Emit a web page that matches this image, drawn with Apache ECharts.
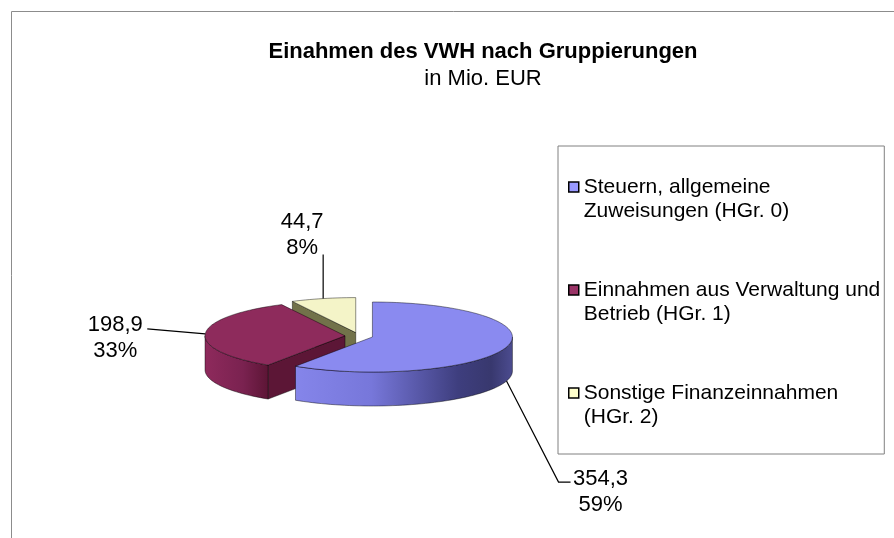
<!DOCTYPE html>
<html>
<head>
<meta charset="utf-8">
<title>Einahmen des VWH nach Gruppierungen</title>
<script src="https://cdn.jsdelivr.net/npm/echarts@6/dist/echarts.min.js"></script>
<style>
    html, body { margin: 0; padding: 0; background: #fff; }
    #chart { width: 894px; height: 538px; }
</style>
</head>
<body>
<div id="chart"></div>
<script>
// Daten
const categories = [
    'Steuern, allgemeine\nZuweisungen (HGr. 0)',
    'Einnahmen aus Verwaltung und\nBetrieb (HGr. 1)',
    'Sonstige Finanzeinnahmen\n(HGr. 2)'
]
const values = [354.3, 198.9, 44.7]
const percentLabels = ['59%', '33%', '8%']

// Farben
const legendColors = ['#9999ff', '#993366', '#ffffcc']
const topColors = ['#8a8af0', '#8e2b5c', '#f4f4c8']
const faceColors = ['#4a4a90', '#5c1636', '#72724a']
const wallStops = [
    [['0', '#8585ea'], ['0.35', '#7777da'], ['0.75', '#3e3e7e'], ['0.9', '#38386e'], ['1', '#4c4c90']],
    [['0', '#8e2a5c'], ['0.6', '#7a2250'], ['1', '#5c1535']],
    [['0', '#e8e8b8'], ['1', '#b8b888']]
]

const fontFamily = '"Liberation Sans", Arial, sans-serif'

// 3D-Torte: Lage und Form
const pie = { cx: 359, cy: 336, rx: 140, ry: 35, depth: 34, explode: 0.1 }

// Beschriftungen relativ zum Ankerpunkt (dz = 1 -> Unterkante der Wand)
const labelLayout = [
    { dz: 1, line: [[52, 101], [64, 101]], text: [94, 111] },
    { dz: 0, line: [[-58, -5]], text: [-90, 4] },
    { dz: 0, line: [[0, -44]], text: [-21, -64] }
]

const total = values.reduce((a, b) => a + b, 0)
const startAngles = []
let acc = 0
values.forEach((v) => {
    startAngles.push(acc / total * 360)
    acc += v
})

const sind = (d) => Math.sin(d * Math.PI / 180)
const cosd = (d) => Math.cos(d * Math.PI / 180)
const fmt = (v) => String(v).replace('.', ',')

function renderSlice(params, api) {
    const i = params.seriesIndex
    const v = api.value(0)
    const a0 = startAngles[i]
    const a1 = a0 + v / total * 360
    const mid = (a0 + a1) / 2
    const cx = pie.cx + pie.explode * pie.rx * sind(mid)
    const cy = pie.cy - pie.explode * pie.ry * cosd(mid)
    const h = pie.depth
    const pt = (t, r, dz) => [cx + r * pie.rx * sind(t), cy - r * pie.ry * cosd(t) + dz]
    const arc = (from, to, dz) => {
        const pts = []
        const n = Math.max(2, Math.ceil(Math.abs(to - from) / 2))
        for (let k = 0; k <= n; k++) pts.push(pt(from + (to - from) * k / n, 1, dz))
        return pts
    }
    const edge = { stroke: 'rgba(0,0,0,0.55)', lineWidth: 0.8, lineJoin: 'round' }
    const poly = (points, fill) => ({
        type: 'polygon',
        shape: { points: points },
        style: Object.assign({ fill: fill }, edge)
    })
    const children = []
    // Schnittflaechen
    if (sind(a0) < -1e-6) children.push(poly([pt(a0, 0, 0), pt(a0, 1, 0), pt(a0, 1, h), pt(a0, 0, h)], faceColors[i]))
    if (sind(a1) > 1e-6) children.push(poly([pt(a1, 0, 0), pt(a1, 1, 0), pt(a1, 1, h), pt(a1, 0, h)], faceColors[i]))
    // Aussenwand (nur vordere Haelfte)
    const w0 = Math.max(a0, 90)
    const w1 = Math.min(a1, 270)
    if (w1 > w0) {
        children.push(poly(arc(w0, w1, 0).concat(arc(w1, w0, h)), {
            type: 'linear', x: 0, y: 0, x2: 1, y2: 0,
            colorStops: wallStops[i].map((s) => ({ offset: +s[0], color: s[1] }))
        }))
    }
    // Deckflaeche
    children.push(poly([pt(a0, 0, 0)].concat(arc(a0, a1, 0)), topColors[i]))
    // Beschriftung
    const lay = labelLayout[i]
    const anchor = pt(mid, 1, lay.dz * h)
    children.push({
        type: 'polyline',
        z2: 10,
        shape: { points: [anchor].concat(lay.line.map((o) => [anchor[0] + o[0], anchor[1] + o[1]])) },
        style: { stroke: '#000', lineWidth: 1.2, fill: null }
    })
    children.push({
        type: 'text',
        z2: 10,
        style: {
            text: fmt(v) + '\n' + percentLabels[i],
            x: anchor[0] + lay.text[0],
            y: anchor[1] + lay.text[1],
            align: 'center',
            verticalAlign: 'middle',
            fontSize: 22,
            lineHeight: 26,
            fontFamily: fontFamily,
            fill: '#000'
        }
    })
    return { type: 'group', children: children }
}

// Zeichenreihenfolge: hintere Stuecke zuerst
const depthOf = values.map((v, i) => -cosd(startAngles[i] + v / total * 180))
const order = depthOf.map((d, i) => i).sort((a, b) => depthOf[a] - depthOf[b])

const myChart = echarts.init(document.getElementById('chart'))
myChart.setOption({
    animation: false,
    title: {
        text: 'Einahmen des VWH nach Gruppierungen',
        subtext: 'in Mio. EUR',
        left: 483,
        top: 39,
        textAlign: 'center',
        padding: 0,
        itemGap: 1,
        textStyle: { fontFamily: fontFamily, fontSize: 22, fontWeight: 'bold', color: '#000', lineHeight: 26 },
        subtextStyle: { fontFamily: fontFamily, fontSize: 22, color: '#000', lineHeight: 26 }
    },
    legend: {
        orient: 'vertical',
        left: 558,
        top: 146,
        padding: [5, 4, 25, 10],
        itemGap: 31,
        itemWidth: 10,
        itemHeight: 10,
        icon: 'rect',
        borderColor: '#808080',
        borderWidth: 1,
        selectedMode: false,
        itemStyle: { borderColor: '#000', borderWidth: 1.5 },
        // leere erste Zeile, damit das Symbol auf Hoehe der ersten Textzeile steht
        formatter: (name) => '\n' + name,
        textStyle: {
            fontFamily: fontFamily,
            fontSize: 21,
            lineHeight: 24,
            color: '#000'
        },
        data: categories
    },
    graphic: [
        {
            type: 'rect',
            shape: { x: 11.5, y: 11.5, width: 1000, height: 1000 },
            style: { fill: null, stroke: '#8c8c8c', lineWidth: 1 },
            silent: true
        }
    ],
    series: categories.map((name, i) => ({
        type: 'custom',
        name: name,
        coordinateSystem: 'none',
        z: 2 + order.indexOf(i),
        itemStyle: { color: legendColors[i] },
        renderItem: renderSlice,
        data: [[values[i]]]
    }))
})
</script>
</body>
</html>
